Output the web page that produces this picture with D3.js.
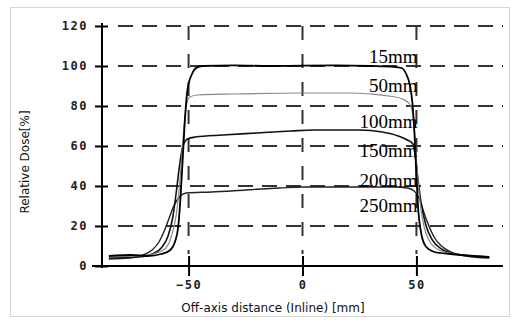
<!DOCTYPE html>
<html>
<head>
<meta charset="utf-8">
<script src="https://cdn.jsdelivr.net/npm/d3@7"></script>
<style>
  body { margin: 0; background: #fff; }
  svg { display: block; }
  .tick-lbl { font-family: "DejaVu Sans Mono", monospace; font-weight: bold; font-size: 12px; letter-spacing: 1.5px; fill: #222; }
  .ttl { font-family: "DejaVu Sans", sans-serif; font-size: 12px; fill: #111; }
  .depth { font-family: "Liberation Serif", "Times New Roman", serif; font-size: 19px; fill: #000; }
</style>
</head>
<body>
<svg width="514" height="322"></svg>
<script>
// ticks
const xTicks = [-50, 0, 50];
const yTicks = [0, 20, 40, 60, 80, 100, 120];

// depth labels and where they sit (dose %)
const depthLabels = ["15mm", "50mm", "100mm", "150mm", "200mm", "250mm"];
const labelDose = [101.5, 87, 69, 54.5, 39.5, 27];

// profiles: [off-axis mm, relative dose %]
const prof15 = [[-85,5],[-75,5.5],[-68,5],[-62,6],[-58,8],[-56,12],[-54.5,20],[-53.5,35],[-52.5,55],[-51.5,75],
  [-50.5,88],[-48.5,96],[-46.5,99.2],[-44,100],[-30,100.3],[-15,100],[0,100.2],[15,100.3],[30,100],[40,99.6],
  [43.5,99],[45.5,96],[47,91],[48.2,82],[49.2,65],[50,45],[50.8,28],[52,17],[54,10],[58,7],[65,6],[75,5],[82,4.5]];
const prof50 = [[-85,4.5],[-72,5],[-64,6.5],[-60,9],[-57.5,15],[-55.5,25],[-54,40],[-53,55],[-52,70],[-51,80],
  [-49.5,84.5],[-46,85.5],[-30,86],[0,86.5],[20,86.5],[30,86],[38,85],[44,83.5],[47,81],[48.5,75],[49.5,62],
  [50.5,45],[51.8,30],[53.5,19],[56,12],[60,8],[67,6],[80,5]];
const prof100 = [[-85,4],[-72,4.5],[-66,6],[-62,9],[-59,15],[-57,24],[-55.5,36],[-54,50],[-52.5,60],[-50.5,63.5],
  [-47,64.5],[-35,65.5],[-20,66.5],[-5,67.5],[5,68],[25,68],[35,67],[42,65],[46,63],[48.5,61],[49.5,55],
  [50.5,45],[52,32],[54,21],[57,13],[61,8.5],[67,6],[80,4.5]];
const prof200 = [[-85,3.5],[-76,4],[-70,5.5],[-66,8],[-63,12],[-60.5,18],[-58.5,24],[-56.5,30],[-54,34.5],[-51,36.5],
  [-40,37],[-25,38],[-10,39],[0,39.5],[20,39.5],[40,39.5],[46,39],[49,37.5],[51.5,33],[53.5,26],[55.5,20],
  [58,14],[61,10],[65,7],[72,5],[82,4]];

function drawChart() {
  const svg = d3.select("svg");

  const x = d3.scaleLinear().domain([-88, 88]).range([102, 503]);
  const y = d3.scaleLinear().domain([0, 120]).range([266, 26]);

  // scanned frame
  svg.append("rect")
    .attr("x", 10.5).attr("y", 7.5)
    .attr("width", 499).attr("height", 309)
    .attr("fill", "none")
    .attr("stroke", "#aaa")
    .attr("stroke-dasharray", "1,1");

  const g = svg.append("g");

  // dashed grid
  g.selectAll(".hgrid")
    .data(yTicks.filter(d => d > 0))
    .enter()
    .append("line")
    .attr("class", "hgrid")
    .attr("x1", x(-88) + 16).attr("x2", x(88))
    .attr("y1", d => y(d)).attr("y2", d => y(d))
    .attr("stroke", "#333")
    .attr("stroke-width", 2)
    .attr("stroke-dasharray", "15,9");

  g.selectAll(".vgrid")
    .data(xTicks)
    .enter()
    .append("line")
    .attr("class", "vgrid")
    .attr("x1", d => x(d)).attr("x2", d => x(d))
    .attr("y1", y(120)).attr("y2", y(0) - 12)
    .attr("stroke", "#333")
    .attr("stroke-width", 2)
    .attr("stroke-dasharray", "14,14");

  // axes
  const yAxis = g.append("g")
    .attr("transform", `translate(${x(-88)},0)`)
    .call(d3.axisLeft(y).tickValues(yTicks).tickSize(7).tickPadding(7));
  yAxis.select(".domain").attr("d", `M0,${y(120) - 3}V${y(0) + 2}`).attr("stroke-width", 2);
  yAxis.selectAll(".tick line").attr("x2", -7).attr("x1", 6).attr("stroke-width", 2);
  yAxis.selectAll(".tick text").attr("class", "tick-lbl").attr("x", -14);

  const xAxis = g.append("g")
    .attr("transform", `translate(0,${y(0)})`)
    .call(d3.axisBottom(x).tickValues(xTicks).tickSize(10).tickPadding(8));
  xAxis.select(".domain").attr("d", `M${x(-88) - 10},0H${x(88)}`).attr("stroke-width", 2);
  xAxis.selectAll(".tick line").attr("y1", -10).attr("y2", 10).attr("stroke-width", 2);
  xAxis.selectAll(".tick text").attr("class", "tick-lbl").attr("y", 14);

  // axis titles
  svg.append("text")
    .attr("class", "ttl")
    .attr("x", 273).attr("y", 312)
    .attr("text-anchor", "middle")
    .text("Off-axis distance (Inline) [mm]");

  svg.append("text")
    .attr("class", "ttl")
    .attr("transform", "translate(29,162) rotate(-90)")
    .attr("text-anchor", "middle")
    .text("Relative Dose[%]");

  // profiles
  const line = d3.line()
    .x(d => x(d[0]))
    .y(d => y(d[1]))
    .curve(d3.curveMonotoneX);

  const profiles = [
    { data: prof200, color: "#222", w: 1.4 },
    { data: prof100, color: "#111", w: 1.6 },
    { data: prof50, color: "#888", w: 1.2 },
    { data: prof15, color: "#000", w: 1.8 }
  ];

  g.selectAll(".profile")
    .data(profiles)
    .enter()
    .append("path")
    .attr("class", "profile")
    .attr("d", d => line(d.data))
    .attr("fill", "none")
    .attr("stroke", d => d.color)
    .attr("stroke-width", d => d.w);

  // depth labels
  g.selectAll(".depth")
    .data(depthLabels)
    .enter()
    .append("text")
    .attr("class", "depth")
    .attr("x", x(50.5))
    .attr("y", (d, i) => y(labelDose[i]))
    .attr("text-anchor", "end")
    .text(d => d);
}

drawChart();
</script>
</body>
</html>
